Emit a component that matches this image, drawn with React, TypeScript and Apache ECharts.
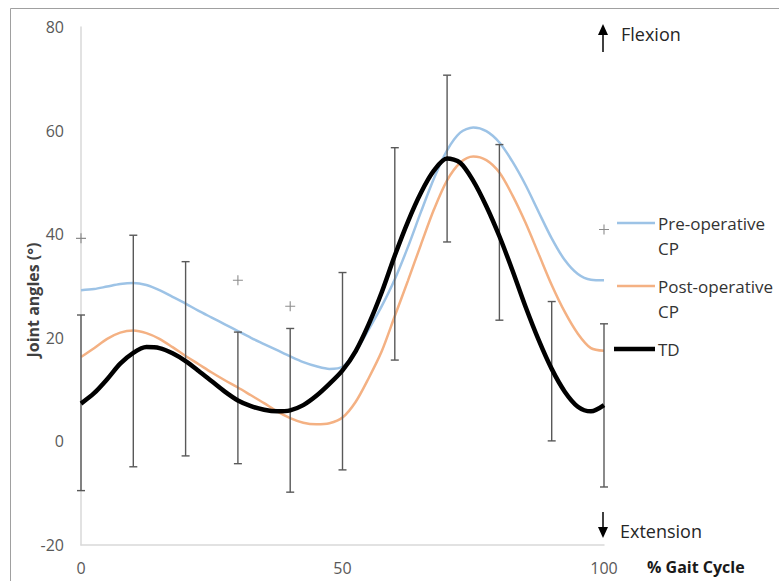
import React, { useEffect, useRef } from "react";
import * as echarts from "echarts";

// % gait cycle sample positions
const gaitX = [0, 2.5, 5, 7.5, 10, 12.5, 15, 17.5, 20, 22.5, 25, 27.5, 30, 32.5, 35, 37.5, 40, 42.5, 45, 47.5, 50, 52.5, 55, 57.5, 60, 62.5, 65, 67.5, 70, 72.5, 75, 77.5, 80, 82.5, 85, 87.5, 90, 92.5, 95, 97.5, 100];

// Typically developing (TD) mean curve
const tdY = [7.3, 9.3, 12.0, 15.0, 17.1, 18.2, 18.0, 17.0, 15.5, 13.6, 11.6, 9.6, 7.9, 6.8, 6.1, 5.8, 6.0, 7.0, 8.8, 11.1, 13.7, 17.4, 22.6, 28.8, 35.9, 42.4, 48.0, 52.3, 54.6, 53.8, 50.3, 45.4, 39.6, 33.0, 26.0, 19.6, 14.0, 9.6, 6.7, 5.8, 7.0];

// Pre-operative CP
const preY = [29.2, 29.4, 29.9, 30.4, 30.6, 30.2, 29.2, 27.9, 26.6, 25.2, 23.9, 22.6, 21.3, 20.0, 18.8, 17.6, 16.4, 15.3, 14.5, 14.0, 14.4, 17.4, 21.6, 26.1, 31.3, 37.5, 44.3, 50.8, 56.2, 59.6, 60.6, 59.9, 57.7, 54.0, 49.5, 44.3, 39.2, 35.0, 32.3, 31.2, 31.1];

// Post-operative CP
const postY = [16.3, 18.0, 19.8, 21.0, 21.4, 20.9, 19.8, 18.2, 16.5, 14.9, 13.3, 11.8, 10.4, 8.9, 7.4, 5.8, 4.5, 3.6, 3.3, 3.5, 4.6, 7.6, 12.2, 17.4, 24.2, 31.0, 38.0, 44.8, 50.4, 53.8, 55.0, 54.3, 51.9, 47.5, 42.2, 36.2, 30.2, 25.0, 20.8, 18.0, 17.5];

// TD error bars (mean ± SD)
const errX = [0, 10, 20, 30, 40, 50, 60, 70, 80, 90, 100];
const errLow = [-9.5, -4.9, -2.8, -4.3, -9.8, -5.5, 15.7, 38.5, 23.4, 0.1, -8.8];
const errHigh = [24.4, 39.8, 34.7, 21.1, 21.8, 32.6, 56.7, 70.7, 57.3, 27.0, 22.7];

// "+" markers
const plusX = [0, 30, 40, 100];
const plusY = [39.2, 31.1, 26.1, 40.9];

const seriesNames = ["Pre-operative CP", "Post-operative CP", "TD"];
const legendLabels = ["Pre-operative\nCP", "Post-operative\nCP", "TD"];
const seriesColors = ["#9DC3E6", "#F4B183", "#000000"];

const FONT = "'Open Sans', 'Liberation Sans', sans-serif";

export default function App() {
  const ref = useRef<HTMLDivElement>(null);

  useEffect(() => {
    const chart = echarts.init(ref.current!, null, { renderer: "svg" });
    const zip = (xs: number[], ys: number[]) => xs.map((x, i) => [x, ys[i]]);
    const errData = errX.map((x, i) => [x, errLow[i], errHigh[i]]);

    const legendLineY = [223, 286, 349];
    const legendGraphics: any[] = [];
    seriesNames.forEach((_, i) => {
      legendGraphics.push({
        type: "line",
        shape: { x1: i === 2 ? 614 : 617, y1: legendLineY[i], x2: 655, y2: legendLineY[i] },
        style: { stroke: seriesColors[i], lineWidth: i === 2 ? 4.5 : 2.5 },
      });
      legendGraphics.push({
        type: "text",
        x: 658,
        y: i === 2 ? legendLineY[i] : legendLineY[i] - 12.5,
        style: {
          text: legendLabels[i],
          fontFamily: FONT,
          fontSize: 17,
          lineHeight: 25,
          fill: "#333333",
          verticalAlign: i === 2 ? "middle" : "top",
          align: "left",
        },
      });
    });

    chart.setOption({
      animation: false,
      backgroundColor: "#ffffff",
      grid: { left: 81, right: 175, top: 27, bottom: 36, containLabel: false, outerBoundsMode: "none" },
      xAxis: {
        type: "value",
        min: 0,
        max: 100,
        interval: 50,
        axisLine: { show: true, onZero: false, lineStyle: { color: "#d9d9d9", width: 1.5 } },
        axisTick: { show: false },
        splitLine: { show: false },
        axisLabel: { color: "#595959", fontSize: 16, fontFamily: FONT, margin: 15 },
      },
      yAxis: {
        type: "value",
        min: -20,
        max: 80,
        interval: 20,
        offset: 2,
        axisLine: { show: true, lineStyle: { color: "#d9d9d9", width: 1.5 } },
        axisTick: { show: false },
        splitLine: { show: false },
        axisLabel: { color: "#595959", fontSize: 16, fontFamily: FONT, margin: 15 },
      },
      series: [
        {
          name: seriesNames[0],
          type: "line",
          data: zip(gaitX, preY),
          smooth: 0.3,
          showSymbol: false,
          lineStyle: { color: seriesColors[0], width: 2.5 },
          z: 2,
        },
        {
          name: seriesNames[1],
          type: "line",
          data: zip(gaitX, postY),
          smooth: 0.3,
          showSymbol: false,
          lineStyle: { color: seriesColors[1], width: 2.5 },
          z: 2,
        },
        {
          name: "TD SD",
          type: "custom",
          data: errData,
          encode: { x: 0, y: [1, 2] },
          z: 3,
          renderItem: (params: any, api: any) => {
            const x = api.value(0);
            const lo = api.coord([x, api.value(1)]);
            const hi = api.coord([x, api.value(2)]);
            const w = 4;
            const style = { stroke: "#595959", lineWidth: 1.4 };
            return {
              type: "group",
              children: [
                { type: "line", shape: { x1: lo[0], y1: lo[1], x2: hi[0], y2: hi[1] }, style },
                { type: "line", shape: { x1: lo[0] - w, y1: lo[1], x2: lo[0] + w, y2: lo[1] }, style },
                { type: "line", shape: { x1: hi[0] - w, y1: hi[1], x2: hi[0] + w, y2: hi[1] }, style },
              ],
            };
          },
        },
        {
          name: seriesNames[2],
          type: "line",
          data: zip(gaitX, tdY),
          smooth: 0.3,
          showSymbol: false,
          lineStyle: { color: seriesColors[2], width: 4.5 },
          z: 4,
        },
        {
          name: "Significance",
          type: "scatter",
          data: zip(plusX, plusY),
          symbol: "path://M4.45,0H5.55V4.45H10V5.55H5.55V10H4.45V5.55H0V4.45H4.45Z",
          symbolSize: 10,
          itemStyle: { color: "#707070" },
          z: 5,
        },
      ],
      graphic: [
        {
          type: "rect",
          shape: { x: 10.5, y: 8.5, width: 900, height: 900 },
          style: { fill: "none", stroke: "#a0a0a0", lineWidth: 1 },
          silent: true,
        },
        {
          type: "text",
          x: 33,
          y: 300,
          rotation: Math.PI / 2,
          style: { text: "Joint angles (°)", fontFamily: FONT, fontSize: 16, fontWeight: "bold", fill: "#404040", verticalAlign: "middle", align: "center" },
        },
        { type: "polygon", shape: { points: [[603, 24], [598, 35], [608, 35]] }, style: { fill: "#000" } },
        { type: "line", shape: { x1: 603, y1: 34, x2: 603, y2: 52 }, style: { stroke: "#000", lineWidth: 1.5 } },
        {
          type: "text",
          x: 621,
          y: 34,
          style: { text: "Flexion", fontFamily: FONT, fontSize: 18, fill: "#262626", verticalAlign: "middle", align: "left" },
        },
        { type: "line", shape: { x1: 603, y1: 512, x2: 603, y2: 528 }, style: { stroke: "#000", lineWidth: 1.5 } },
        { type: "polygon", shape: { points: [[598, 527], [608, 527], [603, 538]] }, style: { fill: "#000" } },
        {
          type: "text",
          x: 620,
          y: 531,
          style: { text: "Extension", fontFamily: FONT, fontSize: 18, fill: "#262626", verticalAlign: "middle", align: "left" },
        },
        {
          type: "text",
          x: 647,
          y: 567,
          style: { text: "% Gait Cycle", fontFamily: FONT, fontSize: 16, fontWeight: "bold", fill: "#1a1a1a", verticalAlign: "middle", align: "left" },
        },
        ...legendGraphics,
      ],
    });

    return () => chart.dispose();
  }, []);

  return (
    <div
      ref={ref}
      style={{ position: "absolute", left: 0, top: 0, width: 779, height: 581, background: "#ffffff" }}
    />
  );
}
